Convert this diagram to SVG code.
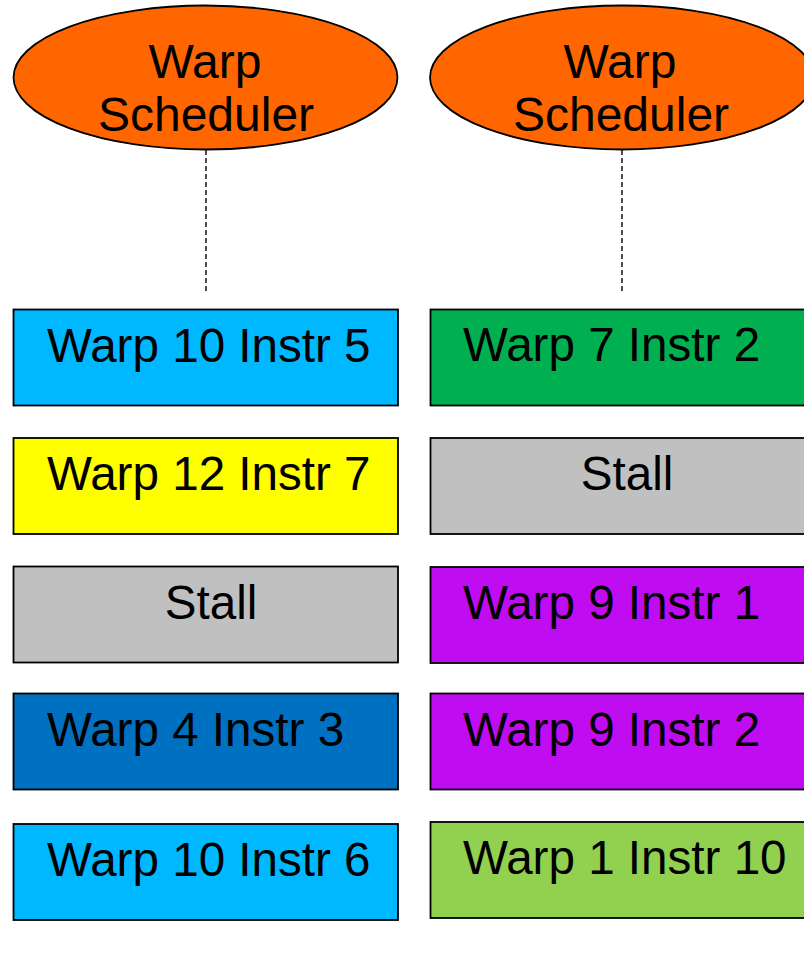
<svg xmlns="http://www.w3.org/2000/svg" width="804" height="979" viewBox="0 0 804 979">
  <style>
    .sched { fill: #FF6600; stroke: #000; stroke-width: 1.8; }
    .box { stroke: #000; stroke-width: 1.8; }
    .lbl { font-family: "Liberation Sans", Arial, sans-serif; font-size: 47.6px; fill: #000; }
    .slbl { font-family: "Liberation Sans", Arial, sans-serif; font-size: 48px; fill: #000; text-anchor: middle; }
    .mid { text-anchor: middle; }
    .link { stroke: #000; stroke-width: 1.4; stroke-dasharray: 5 3; fill: none; }
    .cyan { fill: #00B8FF; }
    .green { fill: #00B050; }
    .yellow { fill: #FFFF00; }
    .gray { fill: #C0C0C0; }
    .purple { fill: #C00CF0; }
    .blue { fill: #0070C0; }
    .lime { fill: #92D050; }
  </style>
  <rect width="804" height="979" fill="#fff"/>

  <!-- scheduler-to-pipeline links -->
  <g id="connectors">
    <line class="link" x1="206" y1="150" x2="206" y2="292"/>
    <line class="link" x1="622" y1="150" x2="622" y2="292"/>
  </g>

  <!-- schedulers -->
  <g id="scheduler-left">
    <ellipse class="sched" cx="205.5" cy="77.5" rx="192" ry="72"/>
    <text class="slbl" x="205" y="78">Warp</text>
    <text class="slbl" x="206" y="131">Scheduler</text>
  </g>
  <g id="scheduler-right">
    <ellipse class="sched" cx="622" cy="77.5" rx="192" ry="72"/>
    <text class="slbl" x="620" y="78">Warp</text>
    <text class="slbl" x="621" y="131">Scheduler</text>
  </g>

  <!-- left issue slots -->
  <g id="l1">
    <rect class="box cyan" x="13.5" y="309.5" width="384.5" height="96"/>
    <text class="lbl" x="47" y="362">Warp 10 Instr 5</text>
  </g>
  <g id="l2">
    <rect class="box yellow" x="13.5" y="438" width="384.5" height="96"/>
    <text class="lbl" x="47" y="490">Warp 12 Instr 7</text>
  </g>
  <g id="l3">
    <rect class="box gray" x="13.5" y="566.5" width="384.5" height="96"/>
    <text class="lbl mid" x="211" y="619">Stall</text>
  </g>
  <g id="l4">
    <rect class="box blue" x="13.5" y="693.5" width="384.5" height="96"/>
    <text class="lbl" x="47" y="746">Warp 4 Instr 3</text>
  </g>
  <g id="l5">
    <rect class="box cyan" x="13.5" y="824" width="384.5" height="96"/>
    <text class="lbl" x="47" y="876">Warp 10 Instr 6</text>
  </g>

  <!-- right issue slots -->
  <g id="r1">
    <rect class="box green" x="430.5" y="309.5" width="385" height="96"/>
    <text class="lbl" x="463" y="361">Warp 7 Instr 2</text>
  </g>
  <g id="r2">
    <rect class="box gray" x="430.5" y="438" width="385" height="96"/>
    <text class="lbl mid" x="627" y="490">Stall</text>
  </g>
  <g id="r3">
    <rect class="box purple" x="430.5" y="567" width="385" height="96"/>
    <text class="lbl" x="463" y="619">Warp 9 Instr 1</text>
  </g>
  <g id="r4">
    <rect class="box purple" x="430.5" y="693.5" width="385" height="96"/>
    <text class="lbl" x="463" y="746">Warp 9 Instr 2</text>
  </g>
  <g id="r5">
    <rect class="box lime" x="430.5" y="822" width="385" height="96"/>
    <text class="lbl" x="463" y="874">Warp 1 Instr 10</text>
  </g>
</svg>
